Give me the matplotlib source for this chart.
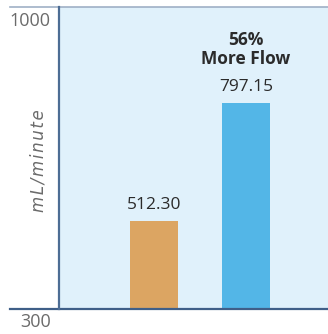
import matplotlib
matplotlib.use("Agg")
import matplotlib.pyplot as plt
import matplotlib.transforms as mtransforms
from matplotlib.lines import Line2D

# Flow rates (mL/minute)
categories = ["Standard", "Improved"]
flow_values = [512.30, 797.15]
bar_colors = ["#dca562", "#53b6e7"]
value_labels = ["512.30", "797.15"]
y_ticks = [300, 1000]
y_tick_labels = ["300", "1000"]
callout = "56%\nMore Flow"

plt.rcParams["font.family"] = ["Open Sans", "DejaVu Sans"]

fig = plt.figure(figsize=(3.28, 3.34), dpi=100)
ax = fig.add_axes([0.180, 0.0749, 0.820, 0.904])
ax.set_facecolor("#e0f1fb")

x = list(range(len(categories)))
ax.bar(x, flow_values, width=0.52, color=bar_colors, zorder=2)
ax.set_xlim(-1.033, 1.891)
ax.set_ylim(300, 1030)

for xi, v, lab in zip(x, flow_values, value_labels):
    ax.annotate(lab, (xi, v), xytext=(0, 8.6), textcoords="offset points",
                ha="center", va="baseline", fontsize=12.5, color="#2b2b2b")

ax.annotate(callout, (x[1], flow_values[1]), xytext=(0, 28),
            textcoords="offset points", ha="center", va="baseline",
            fontsize=12.5, fontweight="bold", color="#2b2b2b",
            linespacing=1.12)

ax.set_xticks([])
ax.set_yticks(y_ticks)
ax.set_yticklabels(y_tick_labels, fontsize=13, color="#6b6b6b")
ax.tick_params(axis="y", length=0, pad=6)
low_label = ax.get_yticklabels()[0]
low_label.set_verticalalignment("top")
low_label.set_transform(low_label.get_transform() +
                        mtransforms.ScaledTranslation(0, -3 / 72, fig.dpi_scale_trans))

for side in ["top", "right", "bottom"]:
    ax.spines[side].set_visible(False)
ax.spines["left"].set_color("#4d6d94")
ax.spines["left"].set_linewidth(1.6)

# Horizontal rules extending past the left spine
ax.add_line(Line2D([-0.182, 1.0], [1.0, 1.0], transform=ax.transAxes,
                   color="#9fb0c6", linewidth=1.2, clip_on=False))
ax.add_line(Line2D([-0.182, 1.0], [0.0, 0.0], transform=ax.transAxes,
                   color="#3f5f88", linewidth=1.6, clip_on=False))

ax.text(-0.078, 0.49, "m\u200aL\u200a/\u200am\u200ai\u200an\u200au\u200at\u200ae",
        transform=ax.transAxes, rotation=90, ha="center", va="center",
        fontsize=12, style="italic", color="#6b6b6b",
        family=["DejaVu Sans"])

fig.savefig("out.png", dpi=100)
